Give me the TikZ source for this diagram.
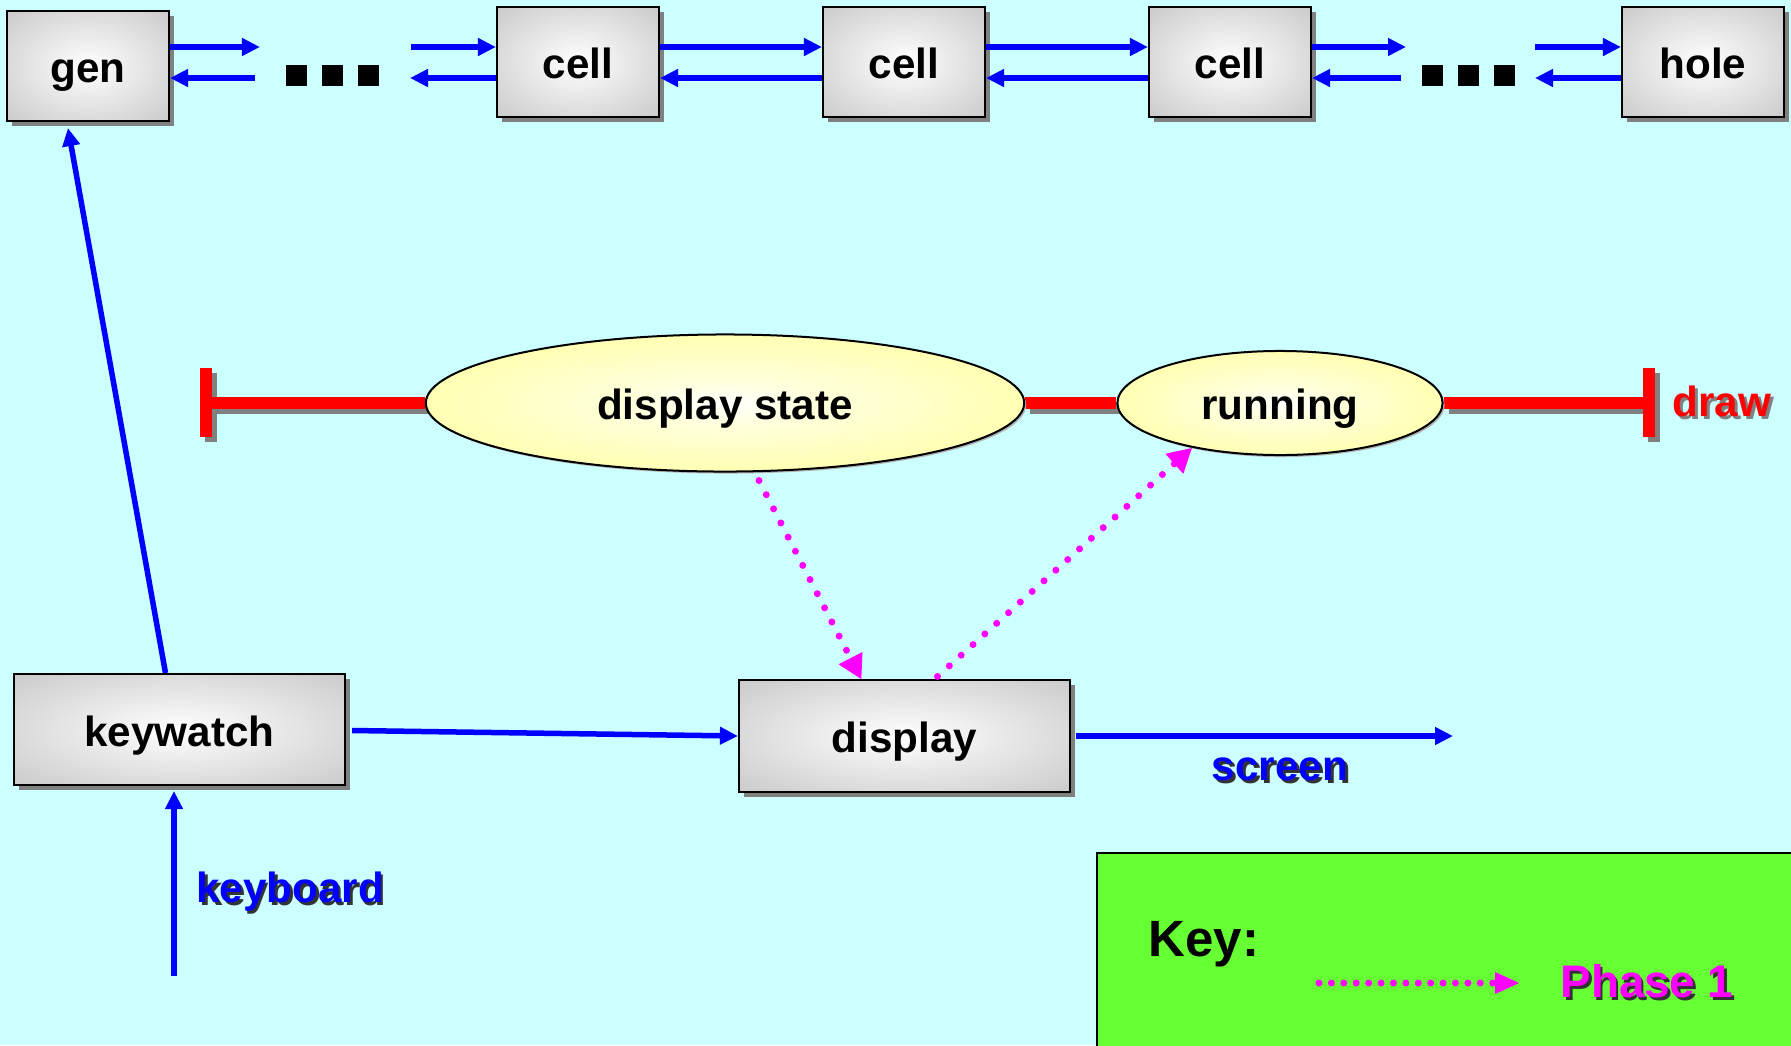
\documentclass[tikz,border=0pt]{standalone}
\usepackage{fontspec}
\setmainfont{Liberation Sans}
\usetikzlibrary{arrows.meta,shadows,calc,shapes.geometric}

\definecolor{bgcyan}{HTML}{CCFFFF}
\definecolor{keygreen}{HTML}{66FF33}
\definecolor{linkblue}{HTML}{0000FF}
\definecolor{barred}{HTML}{FF0000}
\definecolor{phasemag}{HTML}{FF00FF}

\pgfdeclareradialshading{procshade}{\pgfpoint{0bp}{0bp}}{color(0bp)=(white); color(10bp)=(black!6); color(38bp)=(black!22); color(50bp)=(black!25); color(75bp)=(black!25)}
\pgfdeclareradialshading{stateshade}{\pgfpoint{0bp}{0bp}}{color(0bp)=(white); color(8bp)=(yellow!14); color(34bp)=(yellow!38); color(50bp)=(yellow!44); color(75bp)=(yellow!44)}

\pgfdeclarelayer{back}
\pgfdeclarelayer{wires}
\pgfsetlayers{back,wires,main}

% texto com sombra
\newcommand{\shtxt}[3]{\rlap{\hspace{0.8pt}\raisebox{-0.8pt}{\textcolor{#2}{#3}}}\textcolor{#1}{#3}}

\begin{document}
\begin{tikzpicture}[
  x = 0.01cm, y = -0.01cm,
  every node/.style = {font=\bfseries\fontsize{12}{14}\selectfont},
  proc/.style = {draw=black, line width=0.02cm, shade, shading=procshade,
    minimum width=1.62cm, minimum height=1.10cm, inner sep=0pt,
    text height=0.33cm, text depth=0pt,
    drop shadow={shadow xshift=0.05cm, shadow yshift=-0.05cm, fill=black!50, opacity=1}},
  wideproc/.style = {proc, minimum width=3.31cm, minimum height=1.11cm},
  statenode/.style = {ellipse, draw=black, line width=0.02cm, shade, shading=stateshade, inner sep=0pt,
    text height=0.33cm, text depth=0pt,
    drop shadow={shadow xshift=0.02cm, shadow yshift=-0.02cm, fill=black!30, opacity=1}},
  chan/.style = {linkblue, line width=0.055cm, -{Triangle[length=0.18cm, width=0.17cm]}},
  phase/.style = {phasemag, line width=0.07cm, line cap=round, dash pattern=on 0pt off 0.159cm,
    -{Triangle[length=0.24cm, width=0.25cm]}},
  redbar/.style = {barred, line width=0.12cm},
  barshadow/.style = {black!50, line width=0.12cm, transform canvas={shift={(0.05cm,-0.05cm)}}}
]
\clip (0,0) rectangle (1791,1045);
\begin{pgfonlayer}{back}
  \fill[bgcyan] (0,0) rectangle (1791,1045);
\end{pgfonlayer}

% cadeia de celulas
\node[proc] (gen)   at (88,66)   {gen};
\node[proc] (cellA) at (578,62)  {cell};
\node[proc] (cellB) at (904,62)  {cell};
\node[proc] (cellC) at (1230,62) {cell};
\node[proc] (hole)  at (1703,62) {hole};

\coordinate (up) at (0,47);
\coordinate (dn) at (0,78);
\foreach \x in {296,332,368,1432,1468,1504}
  \fill (\x-10.5,65) rectangle ++(21,21);

\coordinate (gapLa) at (260,47);
\coordinate (gapLb) at (255,78);
\coordinate (gapLc) at (411,47);
\coordinate (gapLd) at (410,78);
\coordinate (gapRa) at (1406,47);
\coordinate (gapRb) at (1401,78);
\coordinate (gapRc) at (1535,47);
\coordinate (gapRd) at (1535,78);

\draw[chan] (gen.east |- up) -- (gapLa);
\draw[chan] (gapLb) -- (gen.east |- dn);
\draw[chan] (gapLc) -- (cellA.west |- up);
\draw[chan] (cellA.west |- dn) -- (gapLd);
\draw[chan] (cellA.east |- up) -- (cellB.west |- up);
\draw[chan] (cellB.west |- dn) -- (cellA.east |- dn);
\draw[chan] (cellB.east |- up) -- (cellC.west |- up);
\draw[chan] (cellC.west |- dn) -- (cellB.east |- dn);
\draw[chan] (cellC.east |- up) -- (gapRa);
\draw[chan] (gapRb) -- (cellC.east |- dn);
\draw[chan] (gapRc) -- (hole.west |- up);
\draw[chan] (hole.west |- dn) -- (gapRd);

% barramento draw
\node[statenode, minimum width=5.98cm, minimum height=1.37cm] (dstate) at (725,403) {display state};
\node[statenode, minimum width=3.25cm, minimum height=1.04cm] (running) at (1280,403) {running};
\coordinate (lbar) at (206,403);
\coordinate (rbar) at (1649,403);
\def\busline{
  \draw (lbar) -- (dstate.west);
  \draw (dstate.east) -- (running.west);
  \draw (running.east) -- (rbar);
  \draw ($(lbar)+(0,-35)$) -- ($(lbar)+(0,34)$);
  \draw ($(rbar)+(0,-35)$) -- ($(rbar)+(0,34)$);
}
\begin{pgfonlayer}{wires}
  \begin{scope}[barshadow] \busline \end{scope}
  \begin{scope}[redbar] \busline \end{scope}
\end{pgfonlayer}
\node (drawlbl) at (1722,403) {\shtxt{barred}{black!50}{draw}};

% processos de baixo
\node[wideproc] (keywatch) at (179.5,729.5) {keywatch};
\node[wideproc] (display)  at (904.5,736)   {display};

\draw[chan] ($(keywatch.north)+(-14,0)$) -- ($(gen.south)+(-20,6)$);
\draw[chan] ($(keywatch.east)+(6,1)$) -- (display.west);

\coordinate (scr) at (1453,736);
\draw[chan] ($(display.east)+(5,0)$) -- (scr);
\node (screenlbl) at (1280,771) {\shtxt{linkblue}{black!80}{screen}};

\coordinate (kbd) at (174,976);
\draw[chan, line width=0.06cm] (kbd) -- ($(kbd |- keywatch.south)+(0,5)$);
\node (kbdlbl) at (290,893) {\shtxt{linkblue}{black!80}{keyboard}};

% fase 1
\draw[phase] ($(dstate.south)+(34,8)$) -- ($(display.north)+(-43,0)$);
\draw[phase] ($(display.north)+(33,-3)$) -- (running.207);

% legenda
\draw[fill=keygreen, line width=0.02cm] (1097,853) rectangle (1830,1080);
\node[font=\bfseries\fontsize{14.5}{17}\selectfont] (keylbl) at (1204,944) {Key:};
\coordinate (keyA) at (1319,983);
\coordinate (keyB) at (1520,983);
\draw[phase, dash pattern=on 0pt off 0.124cm, -{Triangle[length=0.25cm, width=0.2cm]}] (keyA) -- (keyB);
\node[font=\bfseries\fontsize{13}{15}\selectfont] (phaselbl) at (1647,983) {\shtxt{phasemag}{black!80}{Phase 1}};
\end{tikzpicture}
\end{document}
